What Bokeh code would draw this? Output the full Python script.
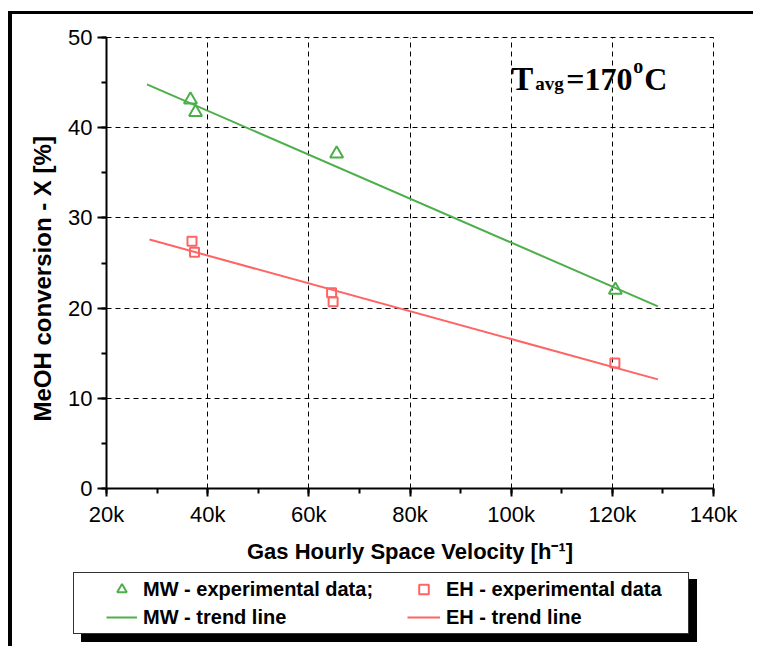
from bokeh.plotting import figure
from bokeh.layouts import column
from bokeh.models import (Range1d, SingleIntervalTicker, NumeralTickFormatter, Legend, LegendItem,
                          Label, Title)
from bokeh.embed import file_html
from bokeh.resources import INLINE

# ---- data ----
mw_x = [36600, 37600, 65500, 120600]
mw_y = [43.1, 41.7, 37.1, 22.0]
eh_x = [36900, 37400, 64500, 64800, 120500]
eh_y = [27.4, 26.2, 21.7, 20.7, 13.9]
mw_trend_x = [28000, 129000]
mw_trend_y = [44.8, 20.2]
eh_trend_x = [28500, 129000]
eh_trend_y = [27.6, 12.1]
x_label = "Gas Hourly Space Velocity [h\u207b\u00b9]"
y_label = "MeOH conversion - X [%]"
legend_labels = ["MW - experimental data;", "MW - trend line",
                 "EH - experimental data", "EH - trend line"]

GREEN = "#4daf4a"
RED = "#ff6464"
SANS = "Liberation Sans"
SERIF = "Liberation Serif"

css_bg = ", ".join([
    "linear-gradient(#fff,#fff) 74px 573px / 614px 60px no-repeat",
    "linear-gradient(#333,#333) 73px 572px / 616px 62px no-repeat",
    "linear-gradient(#000,#000) 81px 579px / 616px 63px no-repeat",
    "linear-gradient(#000,#000) 8px 11px / 100% 3px no-repeat",
    "linear-gradient(#000,#000) 8px 11px / 4px 100% no-repeat",
    "#ffffff",
])

H1 = 574
p = figure(width=753, height=H1, output_backend="svg", toolbar_location=None,
           x_range=Range1d(20000, 140000), y_range=Range1d(0, 50),
           min_border_left=106, min_border_right=40, min_border_top=37,
           min_border_bottom=H1 - 488)
p.outline_line_color = "black"
p.outline_line_dash = "5 4"
p.outline_line_width = 1
p.background_fill_color = "white"
p.border_fill_alpha = 0

p.xaxis.ticker = SingleIntervalTicker(interval=20000, num_minor_ticks=2)
p.yaxis.ticker = SingleIntervalTicker(interval=10, num_minor_ticks=2)
p.xaxis.formatter = NumeralTickFormatter(format="0a")
for ax in (p.xaxis, p.yaxis):
    ax.axis_line_width = 2
    ax.axis_line_color = "black"
    ax.major_tick_line_width = 2
    ax.minor_tick_line_width = 2
    ax.major_tick_line_color = "black"
    ax.minor_tick_line_color = "black"
    ax.major_tick_in = 0
    ax.minor_tick_in = 0
    ax.major_label_text_font = SANS
    ax.major_label_text_font_size = "22px"
    ax.major_label_text_color = "black"
    ax.axis_label_text_font = SANS
    ax.axis_label_text_font_style = "bold"
    ax.axis_label_text_color = "black"
p.xaxis.major_tick_out = 8
p.xaxis.minor_tick_out = 5
p.yaxis.major_tick_out = 9
p.yaxis.minor_tick_out = 5
p.xaxis.axis_label = x_label
p.xaxis.axis_label_text_font_size = "22px"
p.xaxis.major_label_standoff = 5
p.yaxis.major_label_standoff = 5
p.xaxis.axis_label_standoff = 9

p.add_layout(Title(text=y_label, align="left", offset=67, vertical_align="bottom", standoff=20,
                   text_font=SANS, text_font_style="bold", text_font_size="24px",
                   text_color="black"), "left")

for g in (p.xgrid, p.ygrid):
    g.grid_line_color = "black"
    g.grid_line_dash = "5 4"
    g.grid_line_width = 1

mw_style = dict(marker="triangle", size=13, fill_color=None, line_color=GREEN, line_width=2)
eh_style = dict(marker="square", size=9, fill_color=None, line_color=RED, line_width=2)

p.line(mw_trend_x, mw_trend_y, line_color=GREEN, line_width=2)
p.line(eh_trend_x, eh_trend_y, line_color=RED, line_width=2)
p.scatter(mw_x, mw_y, **mw_style)
p.scatter(eh_x, eh_y, **eh_style)

# T_avg annotation
parts = [("T", 0, 0, "33px"), ("avg", 24, -5, "19px"), ("=170", 55, 0, "32px"),
         ("o", 122, 13, "20px"), ("C", 133, 0, "32px")]
for txt, dx, dy, fs in parts:
    p.add_layout(Label(x=100000, y=45.4, x_offset=dx, y_offset=dy, text=txt,
                       text_font=SERIF, text_font_style="bold", text_font_size=fs,
                       text_color="black", text_baseline="alphabetic"))

# ---- legend strip (second figure under the chart; its data lie outside its view) ----
H2 = 646 - H1
q = figure(width=753, height=H2, output_backend="svg", toolbar_location=None,
           x_range=p.x_range, y_range=Range1d(1000, 1001),
           x_axis_type=None, y_axis_type=None,
           min_border_left=0, min_border_right=0, min_border_top=0, min_border_bottom=0)
q.outline_line_color = None
q.background_fill_alpha = 0
q.border_fill_alpha = 0
q.grid.visible = False

lg_mw_line = q.line(mw_trend_x, mw_trend_y, line_color=GREEN, line_width=2)
lg_eh_line = q.line(eh_trend_x, eh_trend_y, line_color=RED, line_width=2)
lg_mw_pts = q.scatter(mw_x, mw_y, **mw_style)
lg_eh_pts = q.scatter(eh_x, eh_y, **eh_style)

common = dict(orientation="vertical", border_line_color=None, background_fill_alpha=0,
              padding=0, margin=0, spacing=4, glyph_height=24,
              label_height=24, label_standoff=6, label_text_font=SANS,
              label_text_font_style="bold", label_text_font_size="20px",
              label_text_color="black")
leg1 = Legend(items=[LegendItem(label=legend_labels[0], renderers=[lg_mw_pts]),
                     LegendItem(label=legend_labels[1], renderers=[lg_mw_line])],
              location=(0, 17), glyph_width=31, **common)
leg2 = Legend(items=[LegendItem(label=legend_labels[2], renderers=[lg_eh_pts]),
                     LegendItem(label=legend_labels[3], renderers=[lg_eh_line])],
              location=(301, 17), glyph_width=33, **common)
q.add_layout(leg1)
q.add_layout(leg2)

layout = column(p, q, spacing=0, styles={"background": css_bg})
open("out.html", "w").write(file_html(layout, INLINE))
